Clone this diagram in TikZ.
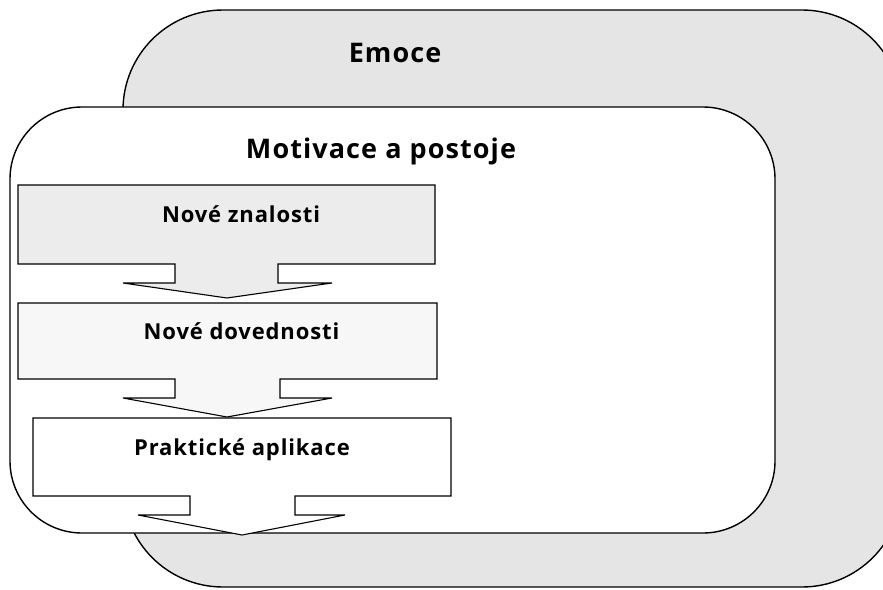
\documentclass[tikz,border=0pt]{standalone}
\usepackage{fontspec}
\setmainfont{Open Sans}[LetterSpace=4]
\begin{document}
\begin{tikzpicture}[x=1pt,y=-1pt]
\tikzset{
  outline/.style={draw=black, line width=1.4pt, line join=miter},
  boxline/.style={draw=black, line width=1.1pt, line join=miter},
  bigtext/.style={font=\bfseries\fontsize{27}{31}\selectfont, anchor=base, inner sep=0pt},
  boxtext/.style={font=\bfseries\fontsize{22}{26}\selectfont, anchor=base, inner sep=0pt},
}
\useasboundingbox (0,0) rectangle (883,589);
\clip (0,0) rectangle (883,589);

% outer field: emotions
\path[outline, fill=gray!20, rounded corners=100pt] (123,10) rectangle (902,587);
\node[bigtext] (emoce) at (395,62) {Emoce};

% inner field: motivation and attitudes
\path[outline, fill=white, rounded corners=72pt] (10,107) rectangle (775,533);
\node[bigtext] (motivace) at (381,158) {Motivace a postoje};

% three stacked arrow boxes
\path[boxline, fill=gray!15]
  (18,185) -- (435,185) -- (435,264) -- (278,264) -- (278,283) -- (332,283)
  -- (227,298) coordinate (tip1) -- (123,283) -- (175,283) -- (175,264) -- (18,264) -- cycle;
\node[boxtext] (znalosti) at (241,222) {Nové znalosti};

\path[boxline, fill=gray!6]
  (18,303) -- (437,303) -- (437,379) -- (280,379) -- (280,398) -- (332,398)
  -- (227,417) coordinate (tip2) -- (123,398) -- (175,398) -- (175,379) -- (18,379) -- cycle;
\node[boxtext] (dovednosti) at (241.5,339) {Nové dovednosti};

\path[boxline, fill=white]
  (33,418) -- (451,418) -- (451,496) -- (295,496) -- (295,515) -- (345,515)
  -- (242,535) coordinate (tip3) -- (138,515) -- (190,515) -- (190,496) -- (33,496) -- cycle;
\node[boxtext] (aplikace) at (242,455) {Praktické aplikace};
\end{tikzpicture}
\end{document}
